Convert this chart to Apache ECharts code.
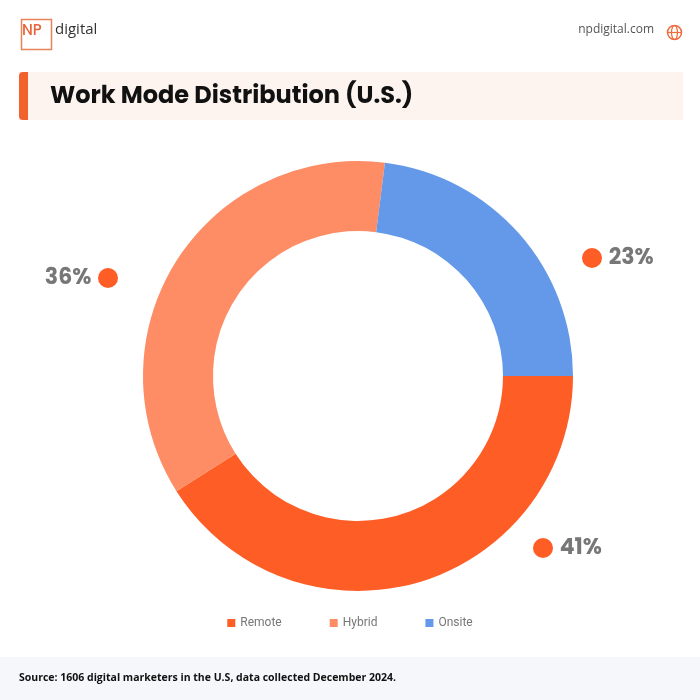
<!DOCTYPE html>
<html>
<head>
<meta charset="utf-8">
<script src="https://cdn.jsdelivr.net/npm/echarts@6/dist/echarts.min.js"></script>
<style>
  html, body { margin: 0; padding: 0; background: #fff; }
  #main { width: 700px; height: 700px; }
</style>
</head>
<body>
<div id="main"></div>
<script>
var categories = ['Remote', 'Hybrid', 'Onsite'];
var shares = [41, 36, 23];
var colors = ['#fe5d26', '#fe8c64', '#6399e8'];

var chart = echarts.init(document.getElementById('main'));

var pieData = categories.map(function (name, i) {
    return { name: name, value: shares[i], itemStyle: { color: colors[i] } };
});

// where each percentage label sits, as in the reference
var labelSpots = [
    { x: 533, y: 548, align: 'left' },
    { x: 118, y: 278, align: 'right' },
    { x: 582, y: 258, align: 'left' }
];

var option = {
    backgroundColor: '#fff',
    graphic: [
        // logo
        { type: 'rect', left: 19, top: 17, shape: { width: 30, height: 30 },
          style: { fill: 'none', stroke: '#e8825a', lineWidth: 1.5 } },
        { type: 'text', left: 22, top: 24, style: { text: 'NP', fill: '#e8643a', font: '500 15px Poppins, "Open Sans", sans-serif' } },
        { type: 'text', left: 55, top: 22, style: { text: 'digital', fill: '#333', font: '15px "Open Sans", sans-serif' } },
        { type: 'text', right: 46, top: 24, style: { text: 'npdigital.com', fill: '#555', font: '12px "Open Sans", sans-serif' } },
        { type: 'circle', right: 16, top: 23, shape: { r: 7 }, style: { fill: 'none', stroke: '#f06a3c', lineWidth: 1.5 } },
        { type: 'ellipse', right: 20, top: 23, shape: { rx: 3, ry: 7 }, style: { fill: 'none', stroke: '#f06a3c', lineWidth: 1.2 } },
        { type: 'line', right: 16, top: 30, shape: { x1: 0, y1: 0, x2: 14, y2: 0 }, style: { stroke: '#f06a3c', lineWidth: 1.2 } },
        // title band
        { type: 'rect', left: 19, top: 72, shape: { width: 664, height: 48 }, style: { fill: '#fdf4f0' } },
        { type: 'rect', left: 19, top: 72, shape: { width: 9, height: 48, r: [4, 0, 0, 4] }, style: { fill: '#f2622c' } },
        { type: 'text', left: 50, top: 85, style: { text: 'Work Mode Distribution (U.S.)', fill: '#111', font: 'bold 24px Poppins, "Open Sans", sans-serif' } },
        // footer
        { type: 'rect', left: 0, top: 657, shape: { width: 700, height: 43 }, style: { fill: '#f6f7fa' } },
        { type: 'text', left: 19, top: 673, style: { text: 'Source: 1606 digital marketers in the U.S, data collected December 2024.', fill: '#111', font: 'bold 10.5px "Open Sans", sans-serif' } }
    ],
    legend: {
        top: 612,
        left: 'center',
        itemWidth: 8,
        itemHeight: 8,
        itemGap: 48,
        icon: 'rect',
        textStyle: { color: '#777', fontSize: 12, fontFamily: 'Roboto' },
        data: categories
    },
    series: [{
        type: 'pie',
        center: [358, 376],
        radius: [145, 215],
        startAngle: 0,
        clockwise: true,
        silent: true,
        label: {
            show: true,
            position: 'outside',
            formatter: function (p) {
                if (p.name === 'Hybrid') return '{t|' + p.value + '%}  {d|}';
                return '{d|}  {t|' + p.value + '%}';
            },
            rich: {
                t: { fontSize: 22, fontWeight: 'bold', color: '#777', fontFamily: 'Poppins, "Open Sans", sans-serif' },
                d: { width: 20, height: 20, borderRadius: 10, backgroundColor: '#fe5d26' }
            }
        },
        labelLine: { show: false },
        labelLayout: function (p) {
            var s = labelSpots[p.dataIndex];
            return { x: s.x, y: s.y, align: s.align, verticalAlign: 'middle' };
        },
        data: pieData
    }]
};

chart.setOption(option);
</script>
</body>
</html>
